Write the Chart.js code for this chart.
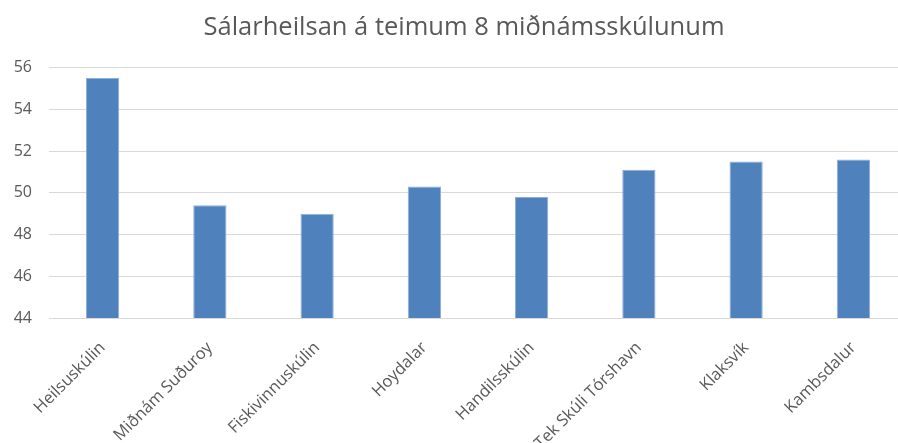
<!DOCTYPE html>
<html>
<head>
<meta charset="utf-8">
<script src="https://cdn.jsdelivr.net/npm/chart.js@4/dist/chart.umd.min.js"></script>
<style>
  html, body { margin: 0; padding: 0; background: #fff; overflow: hidden; }
  #wrap { position: absolute; left: 0; top: 0; width: 928px; height: 443px; }
</style>
</head>
<body>
<div id="wrap"><canvas id="chart"></canvas></div>
<script>
const schools = ['Heilsuskúlin', 'Miðnám Suðuroy', 'Fiskivinnuskúlin', 'Hoydalar',
  'Handilsskúlin', 'Tek Skúli Tórshavn', 'Klaksvík', 'Kambsdalur'];
const scores = [55.5, 49.4, 49.0, 50.3, 49.8, 51.1, 51.5, 51.6];
const titleText = 'Sálarheilsan á teimum 8 miðnámsskúlunum';

const textColor = '#595959';
const gridColor = '#d9d9d9';

new Chart(document.getElementById('chart'), {
  type: 'bar',
  data: {
    labels: schools,
    datasets: [{
      data: scores,
      backgroundColor: '#4f81bd',
      borderColor: '#8eaedb',
      borderWidth: 1,
      categoryPercentage: 1,
      barPercentage: 0.31
    }]
  },
  options: {
    responsive: true,
    maintainAspectRatio: false,
    animation: false,
    layout: { padding: 0 },
    plugins: {
      legend: { display: false },
      tooltip: { enabled: false },
      title: {
        display: true,
        text: titleText,
        color: textColor,
        font: { family: 'Open Sans', size: 25.5, weight: 'normal' },
        padding: { top: 12, bottom: 25 }
      }
    },
    scales: {
      x: {
        grid: { display: false, drawTicks: false },
        border: { display: false },
        ticks: {
          color: textColor,
          font: { family: 'Open Sans', size: 16.5 },
          minRotation: 45,
          maxRotation: 45,
          padding: 20
        },
        afterFit: s => { s.height = 125; }
      },
      y: {
        min: 44,
        max: 56,
        ticks: {
          stepSize: 2,
          color: textColor,
          font: { family: 'Open Sans', size: 16 },
          padding: 17
        },
        grid: { color: gridColor, lineWidth: 1, drawTicks: false },
        border: { display: false },
        afterFit: s => { s.width = 49; }
      },
      // empty strip on the right so the plot runs past the window edge
      // while the title stays centred like the original
      spacer: {
        type: 'linear',
        position: 'right',
        display: true,
        grid: { display: false, drawTicks: false },
        border: { display: false },
        ticks: { display: false },
        afterFit: s => { s.width = 21; }
      }
    }
  }
});
</script>
</body>
</html>
